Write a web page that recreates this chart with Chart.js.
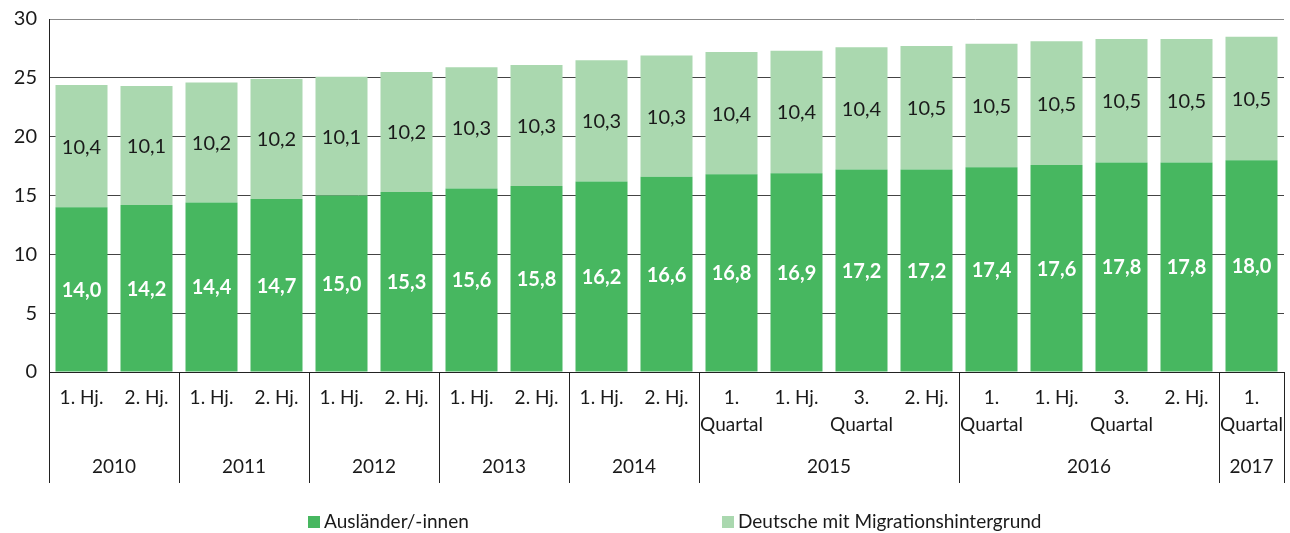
<!DOCTYPE html>
<html><head><meta charset="utf-8">
<script src="https://cdn.jsdelivr.net/npm/chart.js@4.4.0/dist/chart.umd.min.js"></script>
<style>html,body{margin:0;padding:0;background:#fff;}canvas{display:block;}</style>
</head><body>
<canvas id="c" width="1290" height="533"></canvas>
<script>
const subLabels = ['1. Hj.','2. Hj.','1. Hj.','2. Hj.','1. Hj.','2. Hj.','1. Hj.','2. Hj.','1. Hj.','2. Hj.',
  ['1.','Quartal'],'1. Hj.',['3.','Quartal'],'2. Hj.',
  ['1.','Quartal'],'1. Hj.',['3.','Quartal'],'2. Hj.',
  ['1.','Quartal']];
const years = ['2010','2011','2012','2013','2014','2015','2016','2017'];
const yearSpans = [2,2,2,2,2,4,4,1];
const auslaender = [14.0,14.2,14.4,14.7,15.0,15.3,15.6,15.8,16.2,16.6,16.8,16.9,17.2,17.2,17.4,17.6,17.8,17.8,18.0];
const deutscheMH = [10.4,10.1,10.2,10.2,10.1,10.2,10.3,10.3,10.3,10.3,10.4,10.4,10.4,10.5,10.5,10.5,10.5,10.5,10.5];
const seriesNames = ['Ausländer/-innen','Deutsche mit Migrationshintergrund'];
const yTicks = [0,5,10,15,20,25,30];

const FONT = "Lato, 'Open Sans', sans-serif";
const DARK = '#47b760';
const LIGHT = '#aad8af';
const TXT = '#1a1a1a';

const extras = {
  id:'extras',
  afterDatasetsDraw(chart){
    const ctx = chart.ctx;
    ctx.save();
    ctx.textAlign='center'; ctx.textBaseline='middle';
    chart.data.datasets.forEach((ds,di)=>{
      const meta = chart.getDatasetMeta(di);
      meta.data.forEach((bar,i)=>{
        const v = ds.data[i];
        const yc = (bar.y + bar.base)/2;
        ctx.font = (di===0?'bold ':'') + '20px ' + FONT;
        ctx.fillStyle = di===0 ? '#ffffff' : TXT;
        ctx.fillText(v.toFixed(1).replace('.',','), bar.x, yc+1);
      });
    });
    ctx.restore();
  },
  afterDraw(chart){
    const ctx = chart.ctx;
    const x = chart.scales.x, y = chart.scales.y;
    const n = chart.data.labels.length;
    const cw = (x.right - x.left)/n;
    const top = y.bottom, bot = 483;
    ctx.save();
    ctx.strokeStyle = '#222'; ctx.lineWidth = 1;
    let k = 0;
    const bounds = [0];
    yearSpans.forEach(s=>{k+=s; bounds.push(k);});
    bounds.forEach(b=>{
      const px = Math.round(x.left + b*cw) + 0.5;
      ctx.beginPath(); ctx.moveTo(px, top); ctx.lineTo(px, bot); ctx.stroke();
    });
    ctx.fillStyle = TXT; ctx.font = '19px ' + FONT;
    ctx.textAlign='center'; ctx.textBaseline='middle';
    for(let i=0;i<years.length;i++){
      const cx = x.left + (bounds[i]+bounds[i+1])/2*cw;
      ctx.fillText(years[i], cx, 467);
    }
    // legend
    const items = [[308, DARK, seriesNames[0]],[722, LIGHT, seriesNames[1]]];
    items.forEach(([lx,col,txt])=>{
      ctx.fillStyle = col; ctx.fillRect(lx, 516, 12, 12);
      ctx.fillStyle = TXT; ctx.textAlign='left';
      ctx.fillText(txt, lx+16, 522);
    });
    ctx.restore();
  }
};

new Chart(document.getElementById('c'), {
  type:'bar',
  data:{
    labels: subLabels,
    datasets:[
      {label:seriesNames[0], data:auslaender, backgroundColor:DARK, barPercentage:0.8, categoryPercentage:1},
      {label:seriesNames[1], data:deutscheMH, backgroundColor:LIGHT, barPercentage:0.8, categoryPercentage:1}
    ]
  },
  options:{
    responsive:false, animation:false, devicePixelRatio:1,
    layout:{padding:{top:19,right:6,left:0,bottom:0}},
    plugins:{legend:{display:false}, tooltip:{enabled:false}},
    scales:{
      x:{stacked:true, offset:true,
        grid:{display:false, drawTicks:false},
        border:{color:'#222', width:1},
        ticks:{font:{family:FONT,size:19,lineHeight:1.4}, color:TXT, padding:13, maxRotation:0, autoSkip:false},
        afterFit(s){ s.height = 161; s.paddingLeft = 0; s.paddingRight = 0; }
      },
      y:{stacked:true, min:0, max:30,
        afterBuildTicks(s){ s.ticks = yTicks.map(v=>({value:v})); },
        grid:{color:(c)=> c.tick && c.tick.value===30 ? '#888' : '#444', drawTicks:false, lineWidth:1},
        border:{color:'#222', width:1},
        ticks:{font:{family:FONT,size:20}, color:TXT, padding:12},
        afterFit(s){ s.width = 49; s.paddingTop = 0; s.paddingBottom = 0; }
      }
    }
  },
  plugins:[extras]
});
</script>
</body></html>
